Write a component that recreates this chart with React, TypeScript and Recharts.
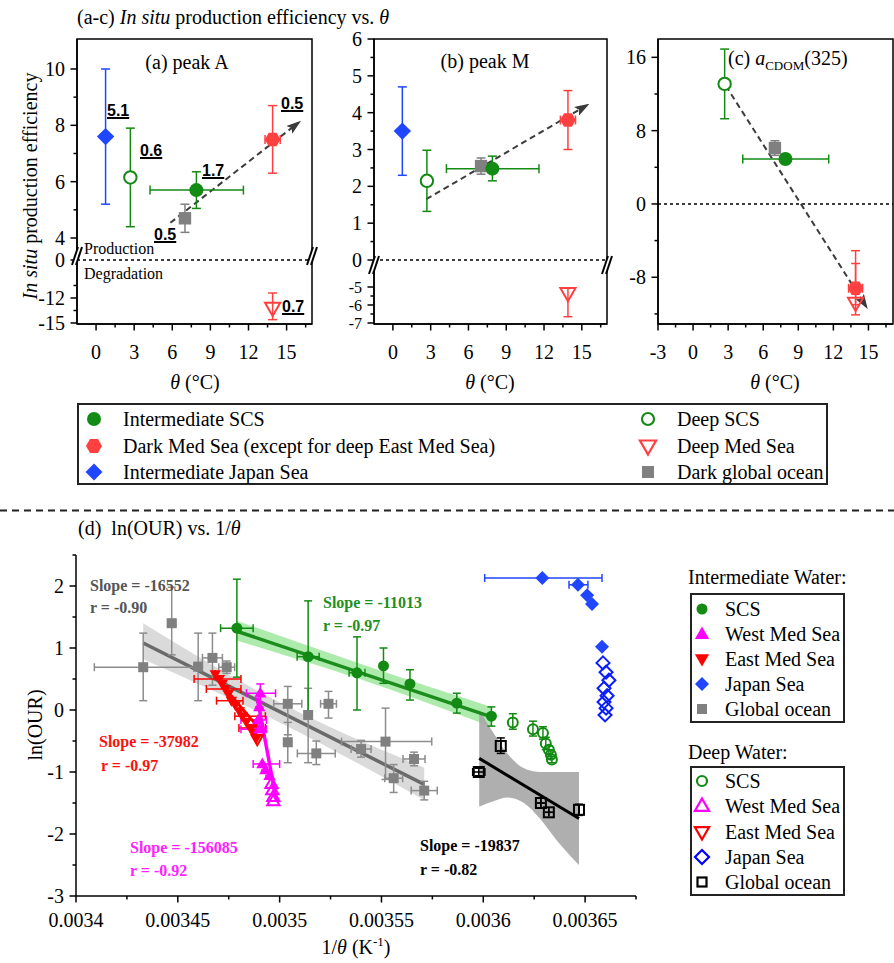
import React from "react";
import { ComposedChart, Scatter, XAxis, YAxis, ErrorBar, ReferenceLine, ReferenceArea, Line, Area } from "recharts";

const SERIF = '"Liberation Serif", "Times New Roman", serif';
const SANS = '"Liberation Sans", Arial, sans-serif';

const GREEN = "#138a13";
const RED = "#ff4040";
const BLUE = "#2046ff";
const GREY = "#808080";
const MAGENTA = "#ff00ff";

// point = [x, y, yLo, yHi, xLo, xHi]
type P = number[];

// ---- (a) peak A, x = theta (°C)
const aJapan: P[] = [[0.75, 7.6, 5.2, 10.0]];
const aDeepSCS: P[] = [[2.7, 6.15, 4.4, 7.9]];
const aGlobal: P[] = [[7.0, 4.7, 4.2, 5.2]];
const aIntSCS: P[] = [[7.9, 5.7, 5.05, 6.35, 4.25, 11.6]];
const aDarkMed: P[] = [[13.9, 7.5, 6.3, 8.7, 13.3, 14.5]];
const aDeepMed: P[] = [[13.9, -13.2, -14.6, -11.4]];
const aArrow = [{ x: 5.85, y: 4.54 }, { x: 15.95, y: 8.1 }];

// ---- (b) peak M
const bJapan: P[] = [[0.75, 3.5, 2.3, 4.7]];
const bDeepSCS: P[] = [[2.7, 2.15, 1.32, 2.98]];
const bGlobal: P[] = [[7.0, 2.55, 2.33, 2.77]];
const bIntSCS: P[] = [[7.9, 2.48, 2.15, 2.82, 4.25, 11.6]];
const bDarkMed: P[] = [[13.9, 3.8, 3.0, 4.6, 13.3, 14.5]];
const bDeepMed: P[] = [[13.9, -5.35, -6.65, -5.05]];
const bArrow = [{ x: 2.65, y: 1.65 }, { x: 15.4, y: 4.2 }];

// ---- (c) aCDOM(325)
const cDeepSCS: P[] = [[2.7, 13.1, 9.3, 16.9]];
const cGlobal: P[] = [[7.0, 6.1, 5.3, 6.9]];
const cIntSCS: P[] = [[7.9, 4.9, 4.4, 5.4, 4.25, 11.6]];
const cDarkMed: P[] = [[13.9, -9.2, -11.0, -6.5, 13.3, 14.5]];
const cDeepMed: P[] = [[13.9, -10.8, -12.1, -5.1]];
const cArrow = [{ x: 2.8, y: 12.9 }, { x: 14.8, y: -11.2 }];

// ---- (d) ln(OUR) vs 1/theta (K^-1)
const dIntSCS: P[] = [
  [0.003479, 1.32, 0.53, 2.11, 0.003471, 0.003487],
  [0.003514, 0.86, -0.05, 1.76, 0.0035086, 0.0035194],
  [0.003538, 0.6, 0.0, 1.18, 0.0035341, 0.0035419],
  [0.003551, 0.71, 0.43, 1.0],
  [0.003564, 0.42, 0.16, 0.65],
  [0.003587, 0.11, -0.05, 0.27],
  [0.003604, -0.1, -0.26, 0.05],
];
const dIntGlobal: P[] = [
  [0.003433, 0.69, 0.15, 1.24, 0.003409, 0.003458],
  [0.003447, 1.4, 0.89, 1.98, 0.003445, 0.003449],
  [0.00346, 0.7, 0.15, 1.24],
  [0.003467, 0.84, 0.4, 1.24, 0.0034621, 0.0034719],
  [0.003474, 0.69, 0.59, 0.79, 0.0034701, 0.0034779],
  [0.003504, 0.1, -0.4, 0.38, 0.0034971, 0.0035109],
  [0.003514, -0.08, -0.85, 0.35],
  [0.003504, -0.52, -0.85, -0.2],
  [0.003518, -0.7, -0.88, -0.5, 0.0035087, 0.0035273],
  [0.003524, 0.1, -0.13, 0.3, 0.0035201, 0.0035279],
  [0.00354, -0.63, -0.76, -0.49, 0.0035351, 0.0035449],
  [0.003552, -0.51, -1.12, 0.03, 0.0035304, 0.0035747],
  [0.003556, -1.1, -1.33, -0.88, 0.0035516, 0.0035604],
  [0.003566, -0.79, -0.9, -0.68, 0.0035606, 0.0035714],
  [0.003571, -1.3, -1.45, -1.15, 0.0035646, 0.0035774],
];
const dIntEastMed: P[] = [
  [0.0034684, 0.58],
  [0.0034704, 0.5, 0.5, 0.5, 0.003458, 0.003481],
  [0.0034718, 0.42],
  [0.0034733, 0.34, 0.34, 0.34, 0.003464, 0.003481],
  [0.0034748, 0.26],
  [0.0034763, 0.15, 0.15, 0.15, 0.003469, 0.003482],
  [0.0034782, 0.08],
  [0.0034802, -0.02],
  [0.0034817, -0.1, -0.1, -0.1, 0.003478, 0.003493],
  [0.0034836, -0.19],
  [0.0034856, -0.29, -0.29, -0.29, 0.00348, 0.003493],
  [0.0034876, -0.37],
  [0.0034886, -0.45],
];
const dDeepEastMed: P[] = [[0.003487, -0.33], [0.003489, -0.47]];
const dIntWestMed: P[] = [
  [0.0034905, 0.27, 0.12, 0.42, 0.0034837, 0.003498],
  [0.00349, 0.05],
  [0.0034895, -0.16, -0.16, -0.16, 0.003481, 0.0034935],
  [0.00349, -0.31, -0.31, -0.31, 0.003481, 0.0034935],
  [0.0034915, -0.87, -0.87, -0.87, 0.003487, 0.0035],
  [0.003493, -0.97],
  [0.003495, -1.06],
];
const dDeepWestMed: P[] = [[0.003496, -1.19], [0.0034964, -1.29], [0.0034969, -1.4], [0.0034969, -1.47]];
const dIntJapan: P[] = [
  [0.003629, 2.13, 2.13, 2.13, 0.0036007, 0.0036583],
  [0.0036465, 2.02, 2.02, 2.02, 0.0036421, 0.0036514],
  [0.003651, 1.85],
  [0.0036534, 1.71],
  [0.0036583, 1.02],
];
const dDeepJapan: P[] = [
  [0.0036588, 0.76], [0.0036603, 0.61], [0.0036617, 0.48], [0.0036593, 0.35],
  [0.0036608, 0.23], [0.0036593, 0.13], [0.0036603, 0.03], [0.0036598, -0.08],
];
const dDeepSCS: P[] = [
  [0.0036145, -0.2, -0.31, -0.06],
  [0.0036244, -0.31, -0.42, -0.18],
  [0.0036293, -0.37, -0.47, -0.27],
  [0.0036307, -0.54, -0.64, -0.44],
  [0.0036322, -0.64, -0.7, -0.58],
  [0.0036332, -0.72, -0.78, -0.66],
  [0.0036337, -0.8, -0.85, -0.75],
];
const dDeepGlobal: P[] = [
  [0.0035978, -1.0, -1.06, -0.94, 0.0035948, 0.0036008],
  [0.0036086, -0.58, -0.7, -0.45],
  [0.0036283, -1.5],
  [0.0036322, -1.65],
  [0.003647, -1.61, -1.7, -1.52],
];

// fit lines (end points) and confidence bands [x, lo, hi]
const fitGlobal = [[0.003433, 1.08], [0.003571, -1.2]];
const fitSCS = [[0.003479, 1.27], [0.003604, -0.11]];
const fitEastMed = [[0.003468, 0.55], [0.00349, -0.3]];
const fitWestMed = [[0.003489, 0.2], [0.0034985, -1.48]];
const fitDeepGlobal = [[0.003598, -0.78], [0.003647, -1.75]];
const ciGlobal = [[0.003433, 0.82, 1.4], [0.0035, -0.2, 0.12], [0.003571, -1.45, -0.93]];
const ciSCS = [[0.003479, 1.12, 1.44], [0.00354, 0.49, 0.74], [0.003604, -0.27, 0.05]];
const ciDeepGlobal = [
  [0.003598, -1.56, 0.0], [0.003605, -1.47, -0.37], [0.003612, -1.41, -0.71], [0.00362, -1.5, -0.94],
  [0.003628, -1.76, -1.0], [0.003636, -2.1, -1.0], [0.003647, -2.5, -1.0],
];

// broken y axes of (a) and (b): value -> px above the x axis
const dispA = (v: number) => 324 - (v >= 3 ? 238 - (v - 4) * 28.17 : v > -6 ? 260 - v * 10 : 298 + (-12 - v) * 8.33);
const dispB = (v: number) => 324 - (v > -2 ? 260 - v * 36.83 : 287 + (-5 - v) * 18);
const ident = (v: number) => v;

function tickSet(majors: number[], minors: number[], f: (v: number) => number = ident) {
  const lab = new Map<string, string>();
  majors.forEach((v) => lab.set(f(v).toFixed(7), String(v)));
  return { ticks: [...majors, ...minors].map(f), label: (d: number) => lab.get(d.toFixed(7)) };
}
type TS = ReturnType<typeof tickSet>;

const xtAB = tickSet([0, 3, 6, 9, 12, 15], [1.5, 4.5, 7.5, 10.5, 13.5, 16.5]);
const xtC = tickSet([-3, 0, 3, 6, 9, 12, 15], [-1.5, 1.5, 4.5, 7.5, 10.5, 13.5, 16.5]);
const ytA = tickSet([4, 6, 8, 10, 0, -12, -15], [5, 7, 9, -10.5, -13.5], dispA);
const ytB = tickSet([0, 1, 2, 3, 4, 5, 6, -5, -6, -7], [0.5, 1.5, 2.5, 3.5, 4.5, 5.5, -5.5, -6.5], dispB);
const ytC = tickSet([-8, 0, 8, 16], [-12, -4, 4, 12]);
const xtD = tickSet([0.0034, 0.00345, 0.0035, 0.00355, 0.0036, 0.00365], [0.003425, 0.003475, 0.003525, 0.003575, 0.003625, 0.003675]);
const ytD = tickSet([-3, -2, -1, 0, 1, 2], [-2.5, -1.5, -0.5, 0.5, 1.5, 2.5]);

const xTick = (label: (d: number) => string | undefined, fs: number, gap: number) => (p: any) => {
  const t = label(p.payload.value);
  return (
    <g>
      <line x1={p.x} x2={p.x} y1={p.y} y2={p.y + (t ? 6.5 : 3.5)} stroke="#000" strokeWidth={1.5} />
      {t && (
        <text x={p.x} y={p.y + gap} dy="0.35em" textAnchor="middle" fontSize={fs} fontFamily={SERIF} fill="#000">
          {t}
        </text>
      )}
    </g>
  );
};
// tight labels of the compressed lower segment get a smaller font
const yTick = (label: (d: number) => string | undefined, fs: number, small: string[] = []) => (p: any) => {
  const t = label(p.payload.value);
  return (
    <g>
      <line x1={p.x} x2={p.x - (t ? 6.5 : 3.5)} y1={p.y} y2={p.y} stroke="#000" strokeWidth={1.5} />
      {t && (
        <text x={p.x - 12} y={p.y} dy="0.35em" textAnchor="end" fontSize={small.includes(t) ? 16 : fs} fontFamily={SERIF} fill="#000">
          {t}
        </text>
      )}
    </g>
  );
};

function Mark({ kind, cx, cy, s, c, sw = 2, hollow = "#fff" }: { kind: string; cx: number; cy: number; s: number; c: string; sw?: number; hollow?: string }) {
  const open = kind[0] === "o";
  const k = open ? kind.slice(1) : kind;
  const fill = open ? hollow : c;
  const st = open ? { stroke: c, strokeWidth: sw } : { stroke: "none" };
  if (k === "circle") return <circle cx={cx} cy={cy} r={s} fill={fill} {...st} />;
  if (k === "square") return <rect x={cx - s} y={cy - s} width={2 * s} height={2 * s} fill={fill} {...st} />;
  const poly = (pts: number[][]) => <polygon points={pts.map(([a, b]) => `${cx + a},${cy + b}`).join(" ")} fill={fill} {...st} />;
  if (k === "diamond") return poly([[0, -s], [s, 0], [0, s], [-s, 0]]);
  if (k === "hex") return poly([0, 1, 2, 3, 4, 5].map((i) => [s * Math.cos((i * Math.PI) / 3), s * Math.sin((i * Math.PI) / 3)]));
  if (k === "up") return poly([[0, -s], [s * 0.95, s * 0.65], [-s * 0.95, s * 0.65]]);
  if (k === "down") return poly([[0, s], [s * 0.95, -s * 0.65], [-s * 0.95, -s * 0.65]]);
  return null;
}
const shp = (kind: string, c: string, s: number, hollow?: string) => (p: any) => <Mark kind={kind} cx={p.cx} cy={p.cy} s={s} c={c} hollow={hollow} />;

type Ser = { pts: P[]; kind: string; c: string; s: number; hollow?: string; bar?: string };

function toRows(pts: P[], f: (v: number) => number) {
  return pts.map(([x, y, yl = y, yh = y, xl = x, xh = x]) => ({
    x,
    y: f(y),
    ey: [f(y) - f(yl), f(yh) - f(y)],
    ex: [x - xl, xh - x],
  }));
}

function scatters(list: Ser[], f: (v: number) => number, cap: number) {
  return list.map((s, i) => {
    const hasY = s.pts.some((p) => p.length > 2 && (p[2] !== p[1] || p[3] !== p[1]));
    const hasX = s.pts.some((p) => p.length > 4);
    return (
      <Scatter key={i} data={toRows(s.pts, f)} isAnimationActive={false} shape={shp(s.kind, s.c, s.s, s.hollow)}>
        {hasY && <ErrorBar dataKey="ey" direction="y" width={cap} stroke={s.bar ?? s.c} strokeWidth={1.5} isAnimationActive={false} />}
        {hasX && <ErrorBar dataKey="ex" direction="x" width={cap} stroke={s.bar ?? s.c} strokeWidth={1.5} isAnimationActive={false} />}
      </Scatter>
    );
  });
}

function PanelABC(props: {
  left: number; width: number; yw: number; rm: number; xDom: number[]; yDom: number[];
  xt: TS; yt: TS; f: (v: number) => number; list: Ser[]; arrow: { x: number; y: number }[]; small?: string[];
}) {
  const { left, width, yw, rm, xDom, yDom, xt, yt, f, list, arrow, small } = props;
  return (
    <div style={{ position: "absolute", left, top: 0 }}>
      <ComposedChart width={width} height={400} margin={{ top: 39, right: rm, bottom: 0, left: 0 }}>
        <XAxis type="number" dataKey="x" domain={xDom} allowDataOverflow ticks={xt.ticks} interval={0} tickSize={0} tickMargin={0}
          tickLine={false} axisLine={{ stroke: "#000", strokeWidth: 1.5 }} tick={xTick(xt.label, 20, 28)} height={76} />
        <YAxis type="number" dataKey="y" domain={yDom} allowDataOverflow ticks={yt.ticks} interval={0} tickSize={0} tickMargin={0}
          tickLine={false} axisLine={{ stroke: "#000", strokeWidth: 1.5 }} tick={yTick(yt.label, 20, small)} width={yw} />
        <ReferenceArea x1={xDom[0]} x2={xDom[1]} y1={yDom[0]} y2={yDom[1]} fill="none" fillOpacity={0} stroke="#000" strokeWidth={1.5} />
        <ReferenceLine y={f(0)} stroke="#000" strokeWidth={1.5} strokeDasharray="3 3" />
        <ReferenceLine segment={arrow.map((p) => ({ x: p.x, y: f(p.y) }))} stroke="#3c3c3c" strokeWidth={2} strokeDasharray="6 4" markerEnd="url(#arrowHead)" />
        {scatters(list, f, 4.5)}
      </ComposedChart>
    </div>
  );
}

function Txt({ x, y, s = 20, children, mid, bold, color = "#000", font, under }: any) {
  return (
    <div style={{
      position: "absolute", left: x, top: y - s * 0.5, fontSize: s, lineHeight: 1, whiteSpace: "nowrap",
      fontWeight: bold ? 700 : 400, color, fontFamily: font ?? SERIF, transform: mid ? "translateX(-50%)" : undefined,
      textDecoration: under ? "underline" : undefined, textDecorationThickness: under ? 2 : undefined,
    }}>
      {children}
    </div>
  );
}

function Brk({ x, y }: { x: number; y: number }) {
  return (
    <svg style={{ position: "absolute", left: x - 8, top: y - 12 }} width={16} height={24}>
      <polygon points="3,21 9,3 13,3 7,21" fill="#fff" />
      <line x1={3} y1={21} x2={9} y2={3} stroke="#000" strokeWidth={2} />
      <line x1={7} y1={21} x2={13} y2={3} stroke="#000" strokeWidth={2} />
    </svg>
  );
}

function LMark({ x, y, kind, c, s }: { x: number; y: number; kind: string; c: string; s: number }) {
  return (
    <svg style={{ position: "absolute", left: x - 12, top: y - 12 }} width={24} height={24}>
      <Mark kind={kind} cx={12} cy={12} s={s} c={c} sw={2.2} />
    </svg>
  );
}

const legendABC = [
  { label: "Intermediate SCS", kind: "circle", c: GREEN, s: 7 },
  { label: "Dark Med Sea (except for deep East Med Sea)", kind: "hex", c: RED, s: 8 },
  { label: "Intermediate Japan Sea", kind: "diamond", c: BLUE, s: 8.5 },
  { label: "Deep SCS", kind: "ocircle", c: GREEN, s: 6 },
  { label: "Deep Med Sea", kind: "odown", c: RED, s: 8.5 },
  { label: "Dark global ocean", kind: "square", c: GREY, s: 6 },
];
const legendInt = [
  { label: " SCS", kind: "circle", c: GREEN, s: 5.5 },
  { label: "West Med Sea", kind: "up", c: MAGENTA, s: 7.5 },
  { label: "East Med Sea", kind: "down", c: "#ff0000", s: 7.5 },
  { label: "Japan Sea", kind: "diamond", c: BLUE, s: 7 },
  { label: "Global ocean", kind: "square", c: GREY, s: 5 },
];
const legendDeep = [
  { label: " SCS", kind: "ocircle", c: GREEN, s: 5 },
  { label: "West Med Sea", kind: "oup", c: MAGENTA, s: 7.5 },
  { label: "East Med Sea", kind: "odown", c: "#ff0000", s: 7.5 },
  { label: "Japan Sea", kind: "odiamond", c: "#0000ff", s: 7 },
  { label: "Global ocean", kind: "osquare", c: "#000", s: 4.5 },
];

const band = (b: number[][]) => b.map(([x, lo, hi]) => ({ x, band: [lo, hi] }));
const fit = (l: number[][]) => l.map(([x, y]) => ({ x, y }));

const serABC = (japan: P[] | null, deepSCS: P[], global: P[], intSCS: P[], deepMed: P[], darkMed: P[]): Ser[] => [
  ...(japan ? [{ pts: japan, kind: "diamond", c: BLUE, s: 8.7 }] : []),
  { pts: deepSCS, kind: "ocircle", c: GREEN, s: 6.2 },
  { pts: global, kind: "square", c: GREY, s: 6.2 },
  { pts: intSCS, kind: "circle", c: GREEN, s: 7 },
  { pts: deepMed, kind: "odown", c: RED, s: 8, hollow: "none" },
  { pts: darkMed, kind: "hex", c: RED, s: 7.8 },
];

export default function App() {
  const thetaLabel = (
    <>
      <i>θ</i> (°C)
    </>
  );
  return (
    <div style={{ position: "absolute", left: 0, top: 0, width: 894, height: 963, background: "#fff", fontFamily: SERIF, color: "#000" }}>
      <svg width={0} height={0} style={{ position: "absolute" }}>
        <defs>
          <marker id="arrowHead" markerWidth={15} markerHeight={10} refX={12} refY={5} orient="auto" markerUnits="userSpaceOnUse">
            <path d="M0,0 L15,5 L0,10 L3,5 z" fill="#3a3a3a" />
          </marker>
        </defs>
      </svg>

      <Txt x={77} y={17}>
        (a-c) <i>In situ</i> production efficiency vs. <i>θ</i>
      </Txt>

      <PanelABC left={0} width={316} yw={77} rm={4} xDom={[-1.5, 17]} yDom={[0, 285]} xt={xtAB} yt={ytA} f={dispA}
        list={serABC(aJapan, aDeepSCS, aGlobal, aIntSCS, aDeepMed, aDarkMed)} arrow={aArrow} />
      <PanelABC left={300} width={311} yw={74} rm={4} xDom={[-1.5, 17]} yDom={[0, 285]} xt={xtAB} yt={ytB} f={dispB}
        list={serABC(bJapan, bDeepSCS, bGlobal, bIntSCS, bDeepMed, bDarkMed)} arrow={bArrow} small={["-5", "-6", "-7"]} />
      <PanelABC left={600} width={294} yw={58} rm={1} xDom={[-3, 17.1]} yDom={[-13.1, 18]} xt={xtC} yt={ytC} f={ident}
        list={serABC(null, cDeepSCS, cGlobal, cIntSCS, cDeepMed, cDarkMed)} arrow={cArrow} />

      <Brk x={77} y={256} />
      <Brk x={312} y={256} />
      <Brk x={374} y={265} />
      <Brk x={607} y={265} />

      <Txt x={187} y={62} mid>(a) peak A</Txt>
      <Txt x={485} y={61} mid>(b) peak M</Txt>
      <Txt x={728} y={58}>
        (c) <i>a</i>
        <sub style={{ fontSize: 13 }}>CDOM</sub>(325)
      </Txt>
      <Txt x={84} y={249} s={16}>Production</Txt>
      <Txt x={84} y={274} s={16}>Degradation</Txt>
      {[["5.1", 107, 111], ["0.6", 140, 151], ["1.7", 202, 171], ["0.5", 154, 235], ["0.5", 281, 104], ["0.7", 282, 307]].map(([t, x, y], i) => (
        <Txt key={i} x={x} y={y} s={16} bold under font={SANS}>{t}</Txt>
      ))}

      <div style={{ position: "absolute", left: 30, top: 186, transform: "translate(-50%, -50%) rotate(-90deg)", fontSize: 20, whiteSpace: "nowrap", lineHeight: 1 }}>
        <i>In situ</i> production efficiency
      </div>
      <Txt x={195} y={382} mid>{thetaLabel}</Txt>
      <Txt x={490} y={382} mid>{thetaLabel}</Txt>
      <Txt x={775} y={382} mid>{thetaLabel}</Txt>

      <div style={{ position: "absolute", left: 77, top: 403, width: 751, height: 82, border: "2px solid #222", boxSizing: "border-box" }} />
      {legendABC.map((l, i) => {
        const col = i < 3 ? 0 : 1;
        const y = 419 + (i % 3) * 26.5;
        return (
          <React.Fragment key={i}>
            <LMark x={col ? 648 : 94} y={y} kind={l.kind} c={l.c} s={l.s} />
            <Txt x={col ? 677 : 123} y={y}>{l.label}</Txt>
          </React.Fragment>
        );
      })}

      <svg style={{ position: "absolute", left: 0, top: 509 }} width={894} height={3}>
        <line x1={0} x2={894} y1={1.5} y2={1.5} stroke="#222" strokeWidth={2} strokeDasharray="7 5" />
      </svg>

      <Txt x={78} y={528}>
        (d)&nbsp; ln(OUR) vs. 1/<i>θ</i>
      </Txt>

      <div style={{ position: "absolute", left: 0, top: 540 }}>
        <ComposedChart width={640} height={420} margin={{ top: 15, right: 4, bottom: 0, left: 0 }}>
          <XAxis type="number" dataKey="x" domain={[0.0034, 0.003675]} allowDataOverflow ticks={xtD.ticks} interval={0} tickSize={0} tickMargin={0}
            tickLine={false} axisLine={{ stroke: "#000", strokeWidth: 1.5 }} tick={xTick(xtD.label, 20, 24)} height={64} />
          <YAxis type="number" dataKey="y" domain={[-3, 2.5]} allowDataOverflow ticks={ytD.ticks} interval={0} tickSize={0} tickMargin={0}
            tickLine={false} axisLine={{ stroke: "#000", strokeWidth: 1.5 }} tick={yTick(ytD.label, 20)} width={76} />
          <Area data={band(ciGlobal)} dataKey="band" type="monotone" stroke="none" fill="#d4d4d4" fillOpacity={0.85} dot={false} activeDot={false} isAnimationActive={false} />
          <Area data={band(ciSCS)} dataKey="band" type="monotone" stroke="none" fill="#9fe89f" fillOpacity={0.85} dot={false} activeDot={false} isAnimationActive={false} />
          <Area data={band(ciDeepGlobal)} dataKey="band" type="monotone" stroke="none" fill="#a6a6a6" fillOpacity={0.9} dot={false} activeDot={false} isAnimationActive={false} />
          <Line data={fit(fitGlobal)} dataKey="y" stroke="#6a6a6a" strokeWidth={3.5} dot={false} activeDot={false} isAnimationActive={false} />
          <Line data={fit(fitSCS)} dataKey="y" stroke="#1c8c1c" strokeWidth={3.5} dot={false} activeDot={false} isAnimationActive={false} />
          <Line data={fit(fitDeepGlobal)} dataKey="y" stroke="#000" strokeWidth={3} dot={false} activeDot={false} isAnimationActive={false} />
          {scatters(
            [
              { pts: dIntGlobal, kind: "square", c: GREY, s: 5, bar: "#8c8c8c" },
              { pts: dIntSCS, kind: "circle", c: GREEN, s: 5.5 },
              { pts: dIntEastMed, kind: "down", c: "#ff0000", s: 6 },
              { pts: dDeepEastMed, kind: "odown", c: "#ff0000", s: 6, hollow: "none" },
              { pts: dIntWestMed, kind: "up", c: MAGENTA, s: 6.5 },
              { pts: dDeepWestMed, kind: "oup", c: MAGENTA, s: 6.5, hollow: "none" },
              { pts: dIntJapan, kind: "diamond", c: BLUE, s: 7 },
              { pts: dDeepJapan, kind: "odiamond", c: "#0a1eff", s: 6.5, hollow: "none" },
              { pts: dDeepSCS, kind: "ocircle", c: GREEN, s: 5, hollow: "none" },
              { pts: dDeepGlobal, kind: "osquare", c: "#000", s: 5, hollow: "none" },
            ],
            ident,
            4
          )}
          <Line data={fit(fitEastMed)} dataKey="y" stroke="#ff0000" strokeWidth={3} dot={false} activeDot={false} isAnimationActive={false} />
          <Line data={fit(fitWestMed)} dataKey="y" stroke={MAGENTA} strokeWidth={3.5} dot={false} activeDot={false} isAnimationActive={false} />
        </ComposedChart>
      </div>

      <div style={{ position: "absolute", left: 35, top: 725, transform: "translate(-50%, -50%) rotate(-90deg)", fontSize: 20, whiteSpace: "nowrap", lineHeight: 1 }}>
        ln(OUR)
      </div>
      <Txt x={356} y={945} mid>
        1/<i>θ</i> (K<sup style={{ fontSize: 13 }}>-1</sup>)
      </Txt>

      <Txt x={90} y={586} s={16} bold color="#555">Slope = -16552</Txt>
      <Txt x={90} y={608} s={16} bold color="#555">r = -0.90</Txt>
      <Txt x={323} y={603} s={16} bold color="#1f8f1f">Slope = -11013</Txt>
      <Txt x={323} y={626} s={16} bold color="#1f8f1f">r = -0.97</Txt>
      <Txt x={99} y={742} s={16} bold color="#ff1010">Slope = -37982</Txt>
      <Txt x={101} y={766} s={16} bold color="#ff1010">r = -0.97</Txt>
      <Txt x={130} y={848} s={16} bold color="#ff22ff">Slope = -156085</Txt>
      <Txt x={130} y={871} s={16} bold color="#ff22ff">r = -0.92</Txt>
      <Txt x={420} y={846} s={16} bold>Slope = -19837</Txt>
      <Txt x={420} y={870} s={16} bold>r = -0.82</Txt>

      <Txt x={688} y={577}>Intermediate Water:</Txt>
      <div style={{ position: "absolute", left: 690, top: 593, width: 155, height: 130, border: "2px solid #222", boxSizing: "border-box" }} />
      {legendInt.map((l, i) => (
        <React.Fragment key={i}>
          <LMark x={702} y={609 + i * 25} kind={l.kind} c={l.c} s={l.s} />
          <Txt x={725} y={609 + i * 25}>{l.label}</Txt>
        </React.Fragment>
      ))}
      <Txt x={688} y={752}>Deep Water:</Txt>
      <div style={{ position: "absolute", left: 690, top: 766, width: 155, height: 130, border: "2px solid #222", boxSizing: "border-box" }} />
      {legendDeep.map((l, i) => (
        <React.Fragment key={i}>
          <LMark x={702} y={781 + i * 25.3} kind={l.kind} c={l.c} s={l.s} />
          <Txt x={725} y={781 + i * 25.3}>{l.label}</Txt>
        </React.Fragment>
      ))}
    </div>
  );
}
